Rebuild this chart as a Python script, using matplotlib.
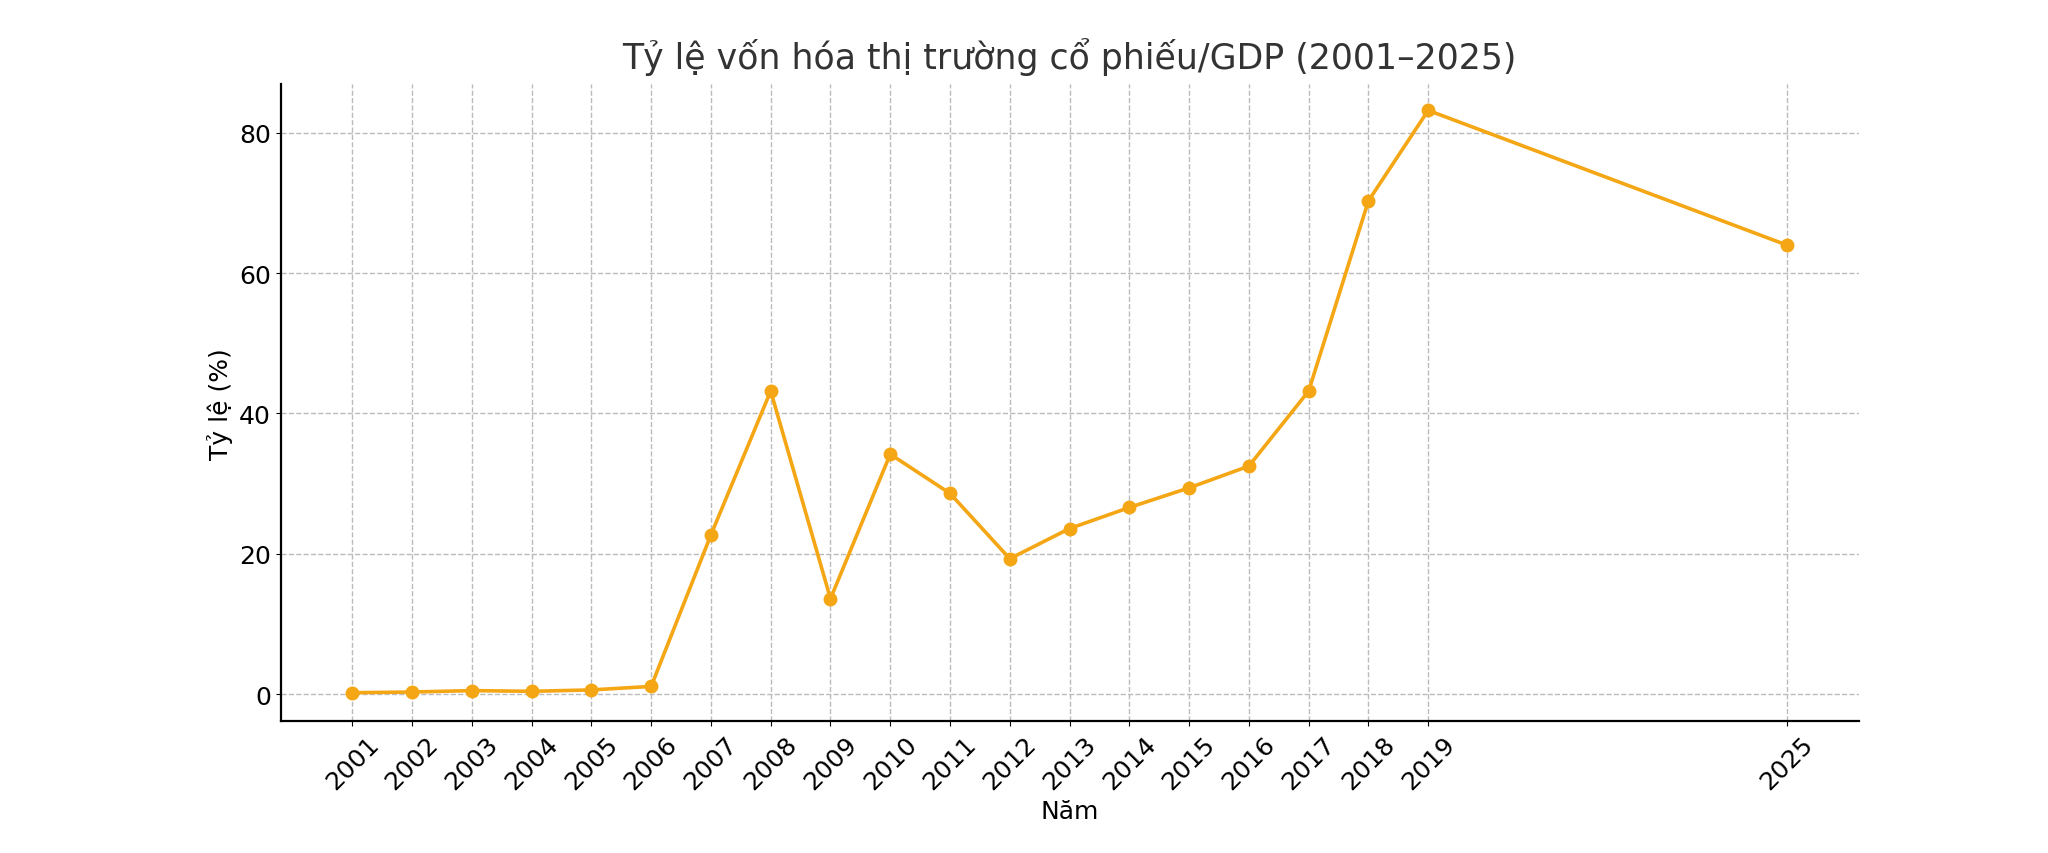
import matplotlib
matplotlib.use("Agg")
import matplotlib.pyplot as plt

years = [2001, 2002, 2003, 2004, 2005, 2006, 2007, 2008, 2009, 2010, 2011, 2012,
         2013, 2014, 2015, 2016, 2017, 2018, 2019, 2025]
values = [0.2, 0.3, 0.5, 0.4, 0.6, 1.1, 22.7, 43.2, 13.6, 34.2, 28.6, 19.3,
          23.6, 26.6, 29.4, 32.5, 43.2, 70.3, 83.2, 64.0]
title = "Tỷ lệ vốn hóa thị trường cổ phiếu/GDP (2001–2025)"
xlabel = "Năm"
ylabel = "Tỷ lệ (%)"

fig = plt.figure(figsize=(20.48, 8.54), dpi=100)
ax = fig.add_axes([0.137, 0.154, 0.7705, 0.746])
color = "#F5A614"
ax.plot(years, values, color=color, linewidth=2.6, marker="o", markersize=9)
ax.set_xticks(years)
ax.set_xticklabels([str(y) for y in years], rotation=45, fontsize=18)
ax.set_yticks([0, 20, 40, 60, 80])
ax.tick_params(axis="y", labelsize=18)
ax.set_xlim(1999.8, 2026.2)
ax.set_ylim(-3.9, 86.9)
ax.grid(True, linestyle="--", color="#bbbbbb", linewidth=1)
ax.spines["top"].set_visible(False)
ax.spines["right"].set_visible(False)
ax.spines["left"].set_linewidth(1.6)
ax.spines["bottom"].set_linewidth(1.6)
ax.set_title(title, fontsize=25, color="#333333", pad=12)
ax.set_xlabel(xlabel, fontsize=18)
ax.set_ylabel(ylabel, fontsize=18)
fig.savefig("out.png", dpi=100)
